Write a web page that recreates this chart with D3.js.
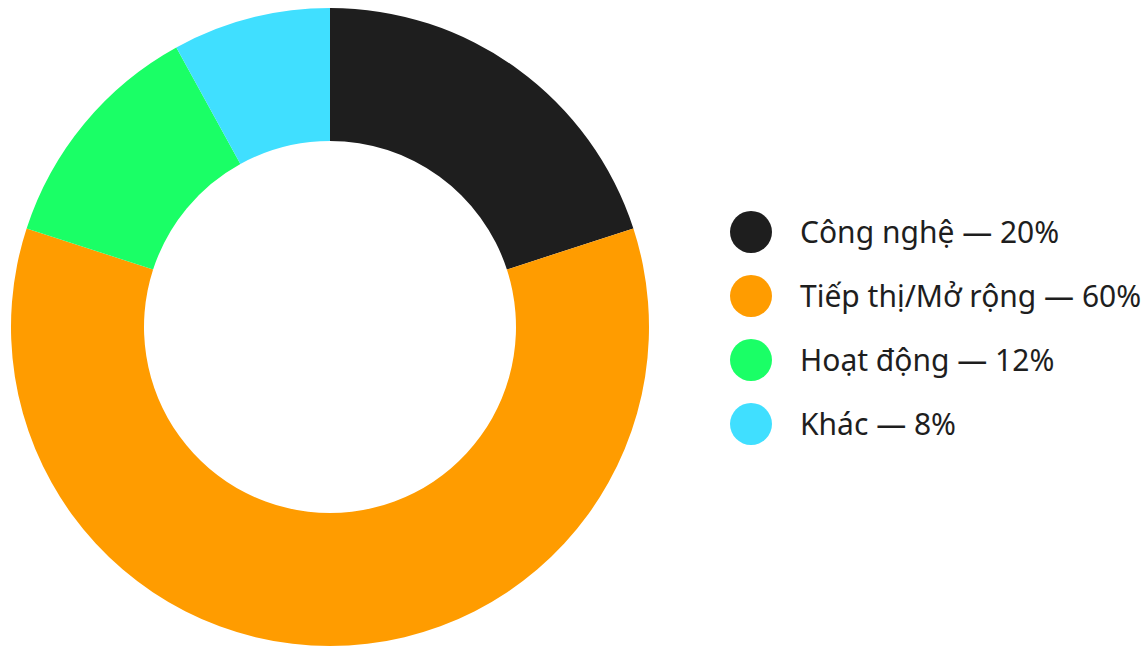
<!DOCTYPE html>
<html>
<head>
<meta charset="utf-8">
<script src="https://cdn.jsdelivr.net/npm/d3@7"></script>
<style>
  body { margin: 0; background: #fff; }
  text { font-family: "Noto Sans", sans-serif; }
</style>
</head>
<body>
<div id="chart"></div>
<script>
var labels = ["Công nghệ", "Tiếp thị/Mở rộng", "Hoạt động", "Khác"],
    values = [20, 60, 12, 8],
    colors = ["#1e1e1e", "#ff9c00", "#1aff66", "#40dfff"];

var width = 1147,
    height = 647,
    cx = 330,
    cy = 327,
    outerR = 319,
    innerR = 186;

var data = labels.map(function(d, i) {
    return { label: d, value: values[i], color: colors[i] };
});

var svg = d3.select("#chart").append("svg")
    .attr("width", width)
    .attr("height", height);

var pie = d3.pie()
    .sort(null)
    .value(function(d) { return d.value; });

var arc = d3.arc()
    .innerRadius(innerR)
    .outerRadius(outerR);

var g = svg.append("g")
    .attr("transform", "translate(" + cx + "," + cy + ")");

g.selectAll("path")
    .data(pie(data))
    .enter().append("path")
    .attr("d", arc)
    .attr("fill", function(d) { return d.data.color; });

// legend
var y = d3.scalePoint()
    .domain(labels)
    .range([232, 424]);

var legend = svg.append("g").selectAll("g")
    .data(data)
    .enter().append("g")
    .attr("transform", function(d) { return "translate(751," + y(d.label) + ")"; });

legend.append("circle")
    .attr("r", 21)
    .attr("fill", function(d) { return d.color; });

legend.append("text")
    .attr("x", 49)
    .attr("y", 0)
    .attr("dy", "0.37em")
    .attr("font-size", 30)
    .attr("fill", "#1e1e1e")
    .text(function(d) { return d.label + " — " + d.value + "%"; });
</script>
</body>
</html>
